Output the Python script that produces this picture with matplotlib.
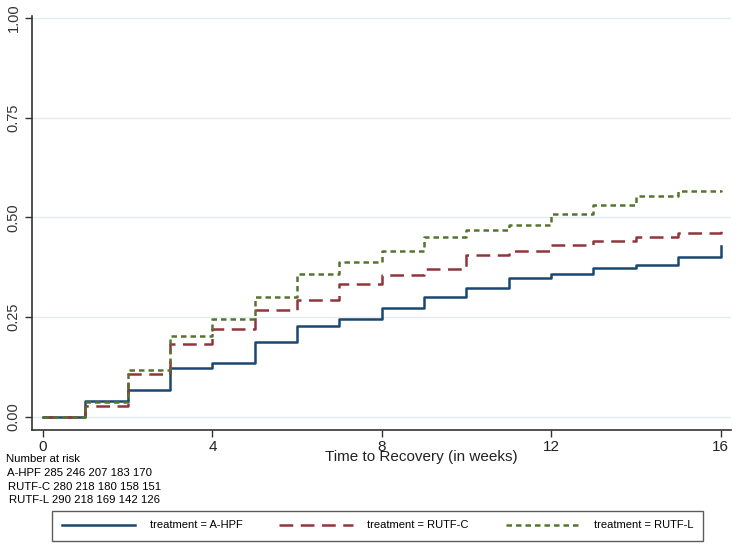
"""
Kaplan-Meier style cumulative recovery curves by treatment
"""

import matplotlib
matplotlib.use("Agg")
import matplotlib.pyplot as plt

plt.rcParams["font.family"] = ["Liberation Sans", "DejaVu Sans"]

# weeks at which the curves step
weeks = list(range(0, 17))

# cumulative proportion recovered (value after each step)
a_hpf = [0.0, 0.041, 0.068, 0.122, 0.135, 0.188, 0.227, 0.245, 0.272,
         0.301, 0.322, 0.349, 0.357, 0.372, 0.380, 0.401, 0.428]
rutf_c = [0.0, 0.028, 0.108, 0.183, 0.220, 0.267, 0.294, 0.334, 0.356,
          0.370, 0.405, 0.416, 0.432, 0.442, 0.452, 0.462, 0.474]
rutf_l = [0.0, 0.037, 0.118, 0.203, 0.246, 0.300, 0.359, 0.387, 0.415,
          0.452, 0.468, 0.480, 0.508, 0.532, 0.553, 0.565, 0.569]

labels = ["treatment = A-HPF", "treatment = RUTF-C", "treatment = RUTF-L"]
risk_rows = [
    "A-HPF 285 246 207 183 170",
    "RUTF-C 280 218 180 158 151",
    "RUTF-L 290 218 169 142 126",
]

x_ticks = [0, 4, 8, 12, 16]
y_ticks = [0.0, 0.25, 0.5, 0.75, 1.0]

navy = "#1a476f"
maroon = "#90353b"
green = "#55752f"

fig = plt.figure(figsize=(7.37, 5.48), dpi=100)
ax = fig.add_axes([0.0434, 0.2153, 0.9486, 0.7555])

ax.step(weeks, a_hpf, where="post", color=navy, lw=1.8,
        label=labels[0])
ax.step(weeks, rutf_c, where="post", color=maroon, lw=1.8,
        dashes=(5.5, 3), label=labels[1])
ax.step(weeks, rutf_l, where="post", color=green, lw=1.8,
        dashes=(2.2, 1.6), label=labels[2])

ax.set_xlim(-0.26, 16.25)
ax.set_ylim(-0.033, 1.005)
ax.set_xticks(x_ticks)
ax.set_yticks(y_ticks)
ax.set_yticklabels([f"{v:.2f}" for v in y_ticks], rotation=90,
                   va="center", fontsize=10.5, color="#333333")
ax.set_xticklabels([str(v) for v in x_ticks], fontsize=11,
                   color="#222222")
ax.tick_params(axis="both", length=5, width=1, color="#333333", pad=2)
ax.tick_params(axis="y", pad=3)

for s in ["top", "right"]:
    ax.spines[s].set_visible(False)
for s in ["left", "bottom"]:
    ax.spines[s].set_color("#333333")
    ax.spines[s].set_linewidth(1.2)

ax.grid(axis="y", color="#e4ecef", lw=1)
ax.set_axisbelow(True)

fig.text(421 / 737, 1 - 457 / 548, "Time to Recovery (in weeks)",
         ha="center", va="center", fontsize=11, color="#222222")

# number at risk table
fig.text(6 / 737, 1 - 459 / 548, "Number at risk", ha="left",
         va="center", fontsize=8.2)
risk_y = [473, 487, 500]
risk_x = [7, 8, 9]
for row, yy, xx in zip(risk_rows, risk_y, risk_x):
    fig.text(xx / 737, 1 - yy / 548, row, ha="left", va="center",
             fontsize=8.2)

leg = fig.legend(loc="center", ncol=3,
                 bbox_to_anchor=(52 / 737, 1 - 543 / 548,
                                 651 / 737, 35 / 548),
                 mode="expand", fontsize=8, handlelength=6.6,
                 handletextpad=1.3, columnspacing=2.6, frameon=True,
                 fancybox=False, borderpad=0.9, borderaxespad=0)
leg.get_frame().set_edgecolor("#333333")
leg.get_frame().set_linewidth(1.0)

plt.savefig("out.png", dpi=100)
